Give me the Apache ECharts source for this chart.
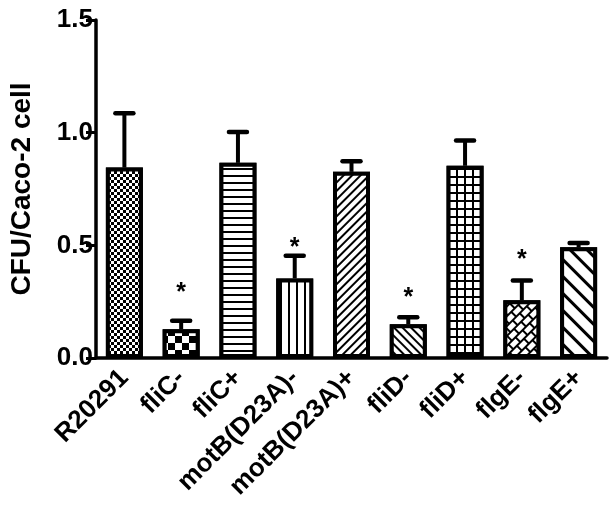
<!DOCTYPE html>
<html>
<head>
<meta charset="utf-8">
<script src="https://cdn.jsdelivr.net/npm/echarts@6/dist/echarts.min.js"></script>
<style>html,body{margin:0;padding:0;background:#fff}#c{width:615px;height:517px}</style>
</head>
<body>
<div id="c"></div>
<script>
const categories = ['R20291', 'fliC-', 'fliC+', 'motB(D23A)-', 'motB(D23A)+', 'fliD-', 'fliD+', 'flgE-', 'flgE+'];
const means = [0.845, 0.128, 0.866, 0.353, 0.826, 0.150, 0.853, 0.256, 0.491];
const errors = [0.241, 0.037, 0.137, 0.101, 0.047, 0.031, 0.112, 0.088, 0.019];
const starY = [null, 0.311, null, 0.510, null, 0.289, null, 0.457, null];
const yTicks = [0, 0.5, 1.0, 1.5];

const FONT = 'Liberation Sans';
const base = { symbol: 'rect', symbolSize: 1, symbolKeepAspect: false, color: '#000', backgroundColor: '#fff' };
const decals = [
  Object.assign({}, base, { dashArrayX: [[3, 3], [0, 3, 3, 0]], dashArrayY: [3, 0] }),
  Object.assign({}, base, { dashArrayX: [[7, 7], [0, 7, 7, 0]], dashArrayY: [7, 0] }),
  Object.assign({}, base, { dashArrayX: [[1, 0]], dashArrayY: [2, 5] }),
  Object.assign({}, base, { dashArrayX: [[2, 6]], dashArrayY: [1, 0] }),
  Object.assign({}, base, { dashArrayX: [[1, 0]], dashArrayY: [2, 4], rotation: -Math.PI / 4 }),
  Object.assign({}, base, { dashArrayX: [[1, 0]], dashArrayY: [2, 4], rotation: Math.PI / 4 }),
  Object.assign({}, base, { dashArrayX: [[1, 0], [2, 6]], dashArrayY: [2, 0, 6, 0] }),
  Object.assign({}, base, { dashArrayX: [[1, 0], [2, 8], [1, 0], [0, 5, 2, 3]], dashArrayY: [2, 0, 5, 0], rotation: -Math.PI / 4 }),
  Object.assign({}, base, { dashArrayX: [[1, 0]], dashArrayY: [3, 9], rotation: Math.PI / 4 })
];

const barData = means.map((v, i) => ({
  value: v,
  itemStyle: { color: '#fff', borderColor: '#000', borderWidth: 4, decal: decals[i] }
}));
const errData = means.map((v, i) => [i, v, errors[i]]);
const starData = starY.map((v, i) => v == null ? null : [i, v]).filter(d => d);

const chart = echarts.init(document.getElementById('c'), null, { renderer: 'canvas' });
chart.setOption({
  animation: false,
  backgroundColor: '#fff',
  grid: { left: 93, right: 8, top: 20, bottom: 159, containLabel: false },
  xAxis: {
    type: 'category',
    data: categories,
    axisLine: { lineStyle: { color: '#000', width: 3.5 } },
    axisTick: { alignWithLabel: true, length: 8, lineStyle: { color: '#000', width: 3 } },
    axisLabel: { rotate: 45, margin: 16, color: '#000', fontFamily: FONT, fontWeight: 'bold', fontSize: 26, interval: 0 }
  },
  yAxis: {
    type: 'value',
    min: 0, max: 1.5, interval: 0.5,
    name: 'CFU/Caco-2 cell',
    nameLocation: 'middle',
    nameGap: 60,
    nameTextStyle: { color: '#000', fontFamily: FONT, fontWeight: 'bold', fontSize: 28 },
    axisLine: { show: true, lineStyle: { color: '#000', width: 3.5 } },
    axisTick: { show: true, length: 10, lineStyle: { color: '#000', width: 3 } },
    splitLine: { show: false },
    axisLabel: {
      margin: 3, color: '#000', fontFamily: FONT, fontWeight: 'bold', fontSize: 26,
      customValues: yTicks,
      formatter: v => v.toFixed(1)
    }
  },
  series: [
    {
      type: 'bar',
      data: barData,
      barWidth: 37,
      z: 2
    },
    {
      type: 'custom',
      z: 3,
      data: errData,
      renderItem: function (params, api) {
        const base = api.coord([api.value(0), api.value(1)]);
        const top = api.coord([api.value(0), api.value(1) + api.value(2)]);
        return {
          type: 'group',
          children: [
            { type: 'line', shape: { x1: base[0], y1: base[1], x2: top[0], y2: top[1] }, style: { stroke: '#000', lineWidth: 4 } },
            { type: 'line', shape: { x1: top[0] - 9, y1: top[1], x2: top[0] + 9, y2: top[1] }, style: { stroke: '#000', lineWidth: 4.5, lineCap: 'round' } }
          ]
        };
      }
    },
    {
      type: 'custom',
      z: 3,
      data: starData,
      renderItem: function (params, api) {
        const p = api.coord([api.value(0), api.value(1)]);
        return {
          type: 'text',
          x: p[0], y: p[1] + 5,
          style: { text: '*', fill: '#000', font: 'bold 25px ' + FONT, align: 'center', verticalAlign: 'middle' }
        };
      }
    }
  ]
});
</script>
</body>
</html>
